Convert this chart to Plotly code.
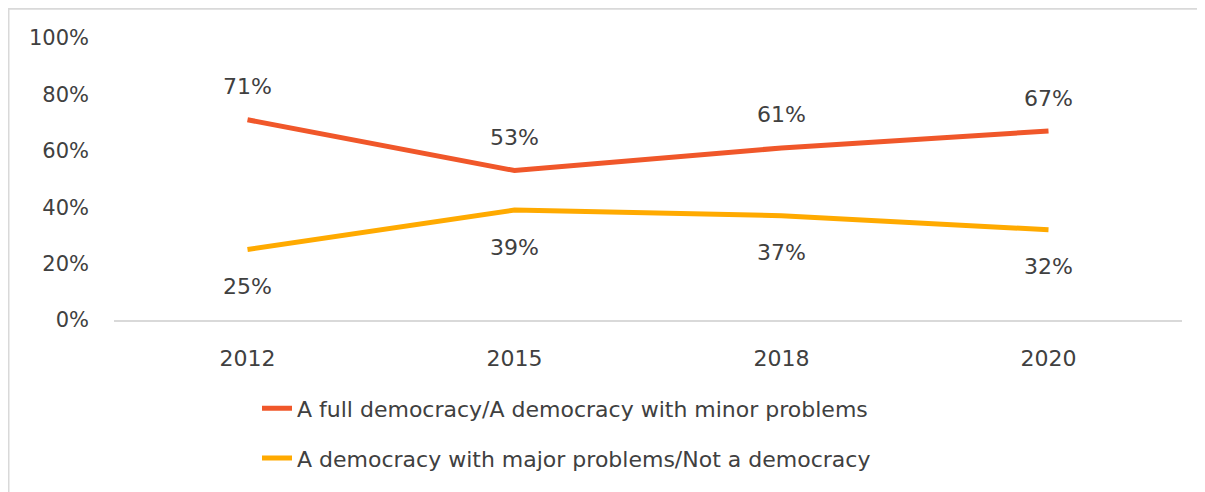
import plotly.graph_objects as go

years = ["2012", "2015", "2018", "2020"]
full_democracy = [0.71, 0.53, 0.61, 0.67]
flawed_democracy = [0.25, 0.39, 0.37, 0.32]
series_names = [
    "A full democracy/A democracy with minor problems",
    "A democracy with major problems/Not a democracy",
]
y_ticks = [0, 0.2, 0.4, 0.6, 0.8, 1.0]
y_tick_labels = ["0%", "20%", "40%", "60%", "80%", "100%"]

RED = "#F0572A"
ORANGE = "#FFAA00"
TEXT = "#404040"
BORDER = "#D9D9D9"
FONT = "DejaVu Sans"

# page has an 8px body margin; figure coordinates = page coordinates - 8
W, H = 1197, 484
L, R, T, B = 106, 1174, 30, 314

fig = go.Figure()
fig.add_trace(go.Scatter(x=years, y=full_democracy, mode="lines", name=series_names[0],
                         legendgroup="a", line=dict(color=RED, width=5)))
fig.add_trace(go.Scatter(x=years, y=flawed_democracy, mode="lines", name=series_names[1],
                         legendgroup="b", line=dict(color=ORANGE, width=5)))

annotations = []
for i, v in enumerate(full_democracy):
    annotations.append(dict(x=i, y=v, xref="x", yref="y", text=f"{round(v * 100)}%",
                            showarrow=False, yshift=33,
                            font=dict(size=22, color=TEXT, family=FONT)))
for i, v in enumerate(flawed_democracy):
    annotations.append(dict(x=i, y=v, xref="x", yref="y", text=f"{round(v * 100)}%",
                            showarrow=False, yshift=-37,
                            font=dict(size=22, color=TEXT, family=FONT)))


def px_x(p):
    return (p - L) / (R - L)


def px_y(p):
    return (B - p) / (B - T)


shapes = [
    dict(type="line", xref="paper", yref="paper", x0=px_x(0.5), x1=px_x(0.5),
         y0=px_y(0), y1=px_y(H + 5), line=dict(color=BORDER, width=2)),
    dict(type="line", xref="paper", yref="paper", x0=px_x(0), x1=px_x(W + 5),
         y0=px_y(0.5), y1=px_y(0.5), line=dict(color=BORDER, width=2)),
]

fig.update_layout(
    width=W, height=H,
    margin=dict(l=L, r=W - R, t=T, b=H - B),
    paper_bgcolor="white", plot_bgcolor="white",
    font=dict(family=FONT, size=21, color=TEXT),
    annotations=annotations,
    shapes=shapes,
    showlegend=True,
    legend=dict(orientation="v", x=px_x(249), xanchor="left", y=px_y(382), yanchor="top",
                font=dict(size=22, color=TEXT, family=FONT),
                traceorder="grouped", tracegroupgap=18, bgcolor="rgba(0,0,0,0)"),
)

fig.update_xaxes(type="category", range=[-0.5, 3.5], showgrid=False, showline=True,
                 linecolor=BORDER, linewidth=2, ticks="", ticklabelstandoff=18,
                 tickfont=dict(size=22, color=TEXT, family=FONT), zeroline=False)
fig.update_yaxes(range=[0, 1.0], tickvals=y_ticks, ticktext=y_tick_labels, showgrid=False,
                 showline=False, zeroline=False, ticks="", ticklabelstandoff=24,
                 tickfont=dict(size=21, color=TEXT, family=FONT))

fig.write_html("out.html")
